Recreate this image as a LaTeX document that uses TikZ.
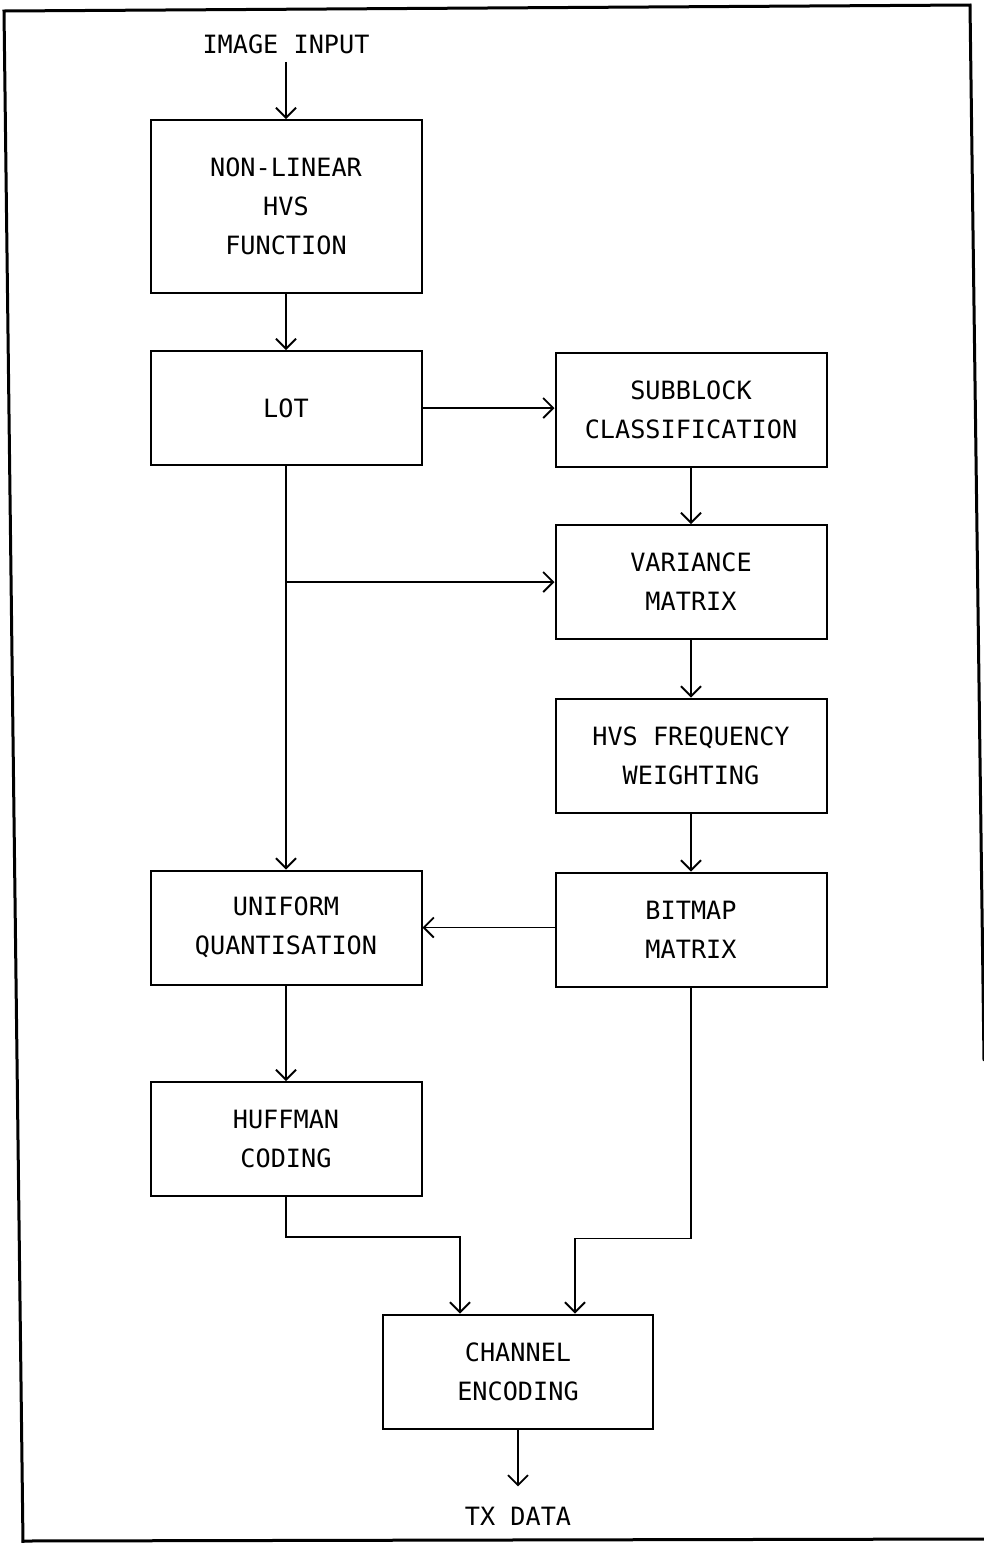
\documentclass[tikz,border=0pt]{standalone}
\usepackage{fontspec}
\setmonofont{DejaVu Sans Mono}
\usepackage{tikz}
\usetikzlibrary{arrows.meta,calc}
\tikzset{
  flowbox/.style={draw, line width=1pt, minimum width=135.5pt, minimum height=57pt, align=center, inner sep=3pt, font=\ttfamily\fontsize{12.6}{19.5}\selectfont},
  flowtallbox/.style={flowbox, minimum height=86.5pt},
  flowlabel/.style={inner sep=4pt, font=\ttfamily\fontsize{12.6}{19.5}\selectfont},
  flowarrow/.style={-{Straight Barb[length=5pt,width=10pt]}, line width=0.9pt},
  framerule/.style={line width=1.5pt, line cap=round}
}

\begin{document}
\begin{tikzpicture}[x=0.5pt, y=-0.5pt]
\useasboundingbox (0,0) rectangle (984,1543);
% scanned page frame
\draw[framerule] (23,1543) -- (4,11) -- (970,5) -- (984,1060);
\draw[framerule] (23,1541) -- (984,1539);
% blocks
\node[flowlabel] (imageIn) at (286,44) {IMAGE INPUT};
\node[flowtallbox] (hvsFunction) at (286,206.5) {NON-LINEAR\\HVS\\FUNCTION};
\node[flowbox] (lot) at (286,408) {LOT};
\node[flowbox] (subblock) at (691,410) {SUBBLOCK\\CLASSIFICATION};
\node[flowbox] (variance) at (691,582) {VARIANCE\\MATRIX};
\node[flowbox] (hvsWeight) at (691,755.5) {HVS FREQUENCY\\WEIGHTING};
\node[flowbox] (uniform) at (286,927.5) {UNIFORM\\QUANTISATION};
\node[flowbox] (bitmap) at (691,929.5) {BITMAP\\MATRIX};
\node[flowbox] (huffman) at (286,1139) {HUFFMAN\\CODING};
\node[flowbox, minimum width=135pt] (channel) at (518,1371.5) {CHANNEL\\ENCODING};
\node[flowlabel, inner ysep=10pt] (txData) at (518,1516) {TX DATA};
% connections
\draw[flowarrow] (imageIn) -- (hvsFunction);
\draw[flowarrow] (hvsFunction) -- (lot);
\draw[flowarrow] (lot) -- (subblock.west |- lot.east);
\draw[flowarrow] (lot) -- (uniform);
\coordinate (branch) at (lot.south |- variance.west);
\draw[flowarrow] (branch) -- (variance.west);
\draw[flowarrow] (subblock) -- (variance);
\draw[flowarrow] (variance) -- (hvsWeight);
\draw[flowarrow] (hvsWeight) -- (bitmap);
\draw[flowarrow] (bitmap.west |- uniform.east) -- (uniform.east);
\draw[flowarrow] (uniform) -- (huffman);
\draw[flowarrow] (huffman.south) -- ++(0,40) -| ($(channel.north)+(-58,0)$);
\draw[flowarrow] (bitmap.south) -- ++(0,251) -| ($(channel.north)+(57,0)$);
\draw[flowarrow] (channel) -- (txData);
\end{tikzpicture}
\end{document}
